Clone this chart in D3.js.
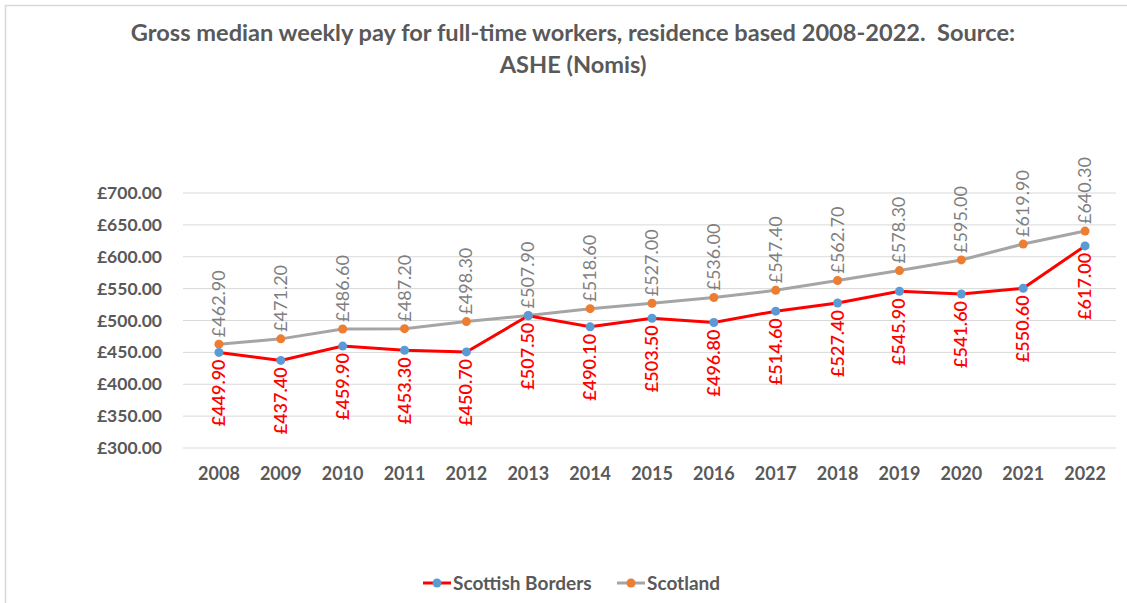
<!DOCTYPE html>
<html>
<head>
<meta charset="utf-8">
<script src="https://cdn.jsdelivr.net/npm/d3@7"></script>
<style>
  html, body { margin: 0; padding: 0; background: #fff; }
  svg { display: block; }
  text { font-family: Lato, "Open Sans", sans-serif; }
</style>
</head>
<body>
<svg id="chart" width="1127" height="603"></svg>
<script>
const years = ["2008","2009","2010","2011","2012","2013","2014","2015","2016","2017","2018","2019","2020","2021","2022"];
const scottishBorders = [449.90,437.40,459.90,453.30,450.70,507.50,490.10,503.50,496.80,514.60,527.40,545.90,541.60,550.60,617.00];
const scotland = [462.90,471.20,486.60,487.20,498.30,507.90,518.60,527.00,536.00,547.40,562.70,578.30,595.00,619.90,640.30];
const yTicks = [300,350,400,450,500,550,600,650,700];
const seriesNames = ["Scottish Borders","Scotland"];
const titleLines = ["Gross median weekly pay for full-time workers, residence based 2008-2022.  Source:", "ASHE (Nomis)"];

const svg = d3.select("#chart");
const textColor = "#595959";

// outer chart border
svg.append("rect").attr("x",5.5).attr("y",5.5).attr("width",1200).attr("height",700)
  .attr("fill","none").attr("stroke","#d9d9d9").attr("stroke-width",1.5);

// title
svg.append("g").selectAll("text").data(titleLines).join("text")
  .attr("x",573).attr("y",(d,i)=>41+i*32)
  .attr("text-anchor","middle").attr("font-size",23.6).attr("font-weight","bold")
  .style("white-space","pre")
  .attr("fill",textColor).text(d=>d);

const x = d3.scaleBand().domain(years).range([188,1116]);
const y = d3.scaleLinear().domain([300,700]).range([448,193]);
const cx = d => x(d) + x.bandwidth()/2;

// gridlines
svg.append("g").selectAll("line").data(yTicks).join("line")
  .attr("x1",183).attr("x2",1116)
  .attr("y1",d=>y(d)).attr("y2",d=>y(d))
  .attr("stroke","#d9d9d9").attr("stroke-width",1);

// y axis
const yAxis = svg.append("g").attr("transform","translate(170,0)")
  .call(d3.axisLeft(y).tickValues(yTicks).tickSize(0).tickPadding(8).tickFormat(d=>"£"+d3.format(".2f")(d)));
yAxis.select(".domain").remove();
yAxis.selectAll("text").attr("font-size",17.5).attr("font-weight","bold").attr("fill",textColor)
  .attr("font-family","Lato, sans-serif");

// x axis
const xAxis = svg.append("g").attr("transform","translate(0,463)")
  .call(d3.axisBottom(x).tickSize(0).tickPadding(4));
xAxis.select(".domain").remove();
xAxis.selectAll("text").attr("font-size",18).attr("font-weight","bold").attr("fill",textColor)
  .attr("font-family","Lato, sans-serif");

const line = d3.line().x((d,i)=>cx(years[i])).y(d=>y(d));

// Scotland series
svg.append("path").datum(scotland).attr("d",line)
  .attr("fill","none").attr("stroke","#a5a5a5").attr("stroke-width",3);
// Borders series
svg.append("path").datum(scottishBorders).attr("d",line)
  .attr("fill","none").attr("stroke","#ff0000").attr("stroke-width",3);

svg.append("g").selectAll("circle").data(scotland).join("circle")
  .attr("cx",(d,i)=>cx(years[i])).attr("cy",d=>y(d)).attr("r",4.5).attr("fill","#ed7d31");
svg.append("g").selectAll("circle").data(scottishBorders).join("circle")
  .attr("cx",(d,i)=>cx(years[i])).attr("cy",d=>y(d)).attr("r",4.5).attr("fill","#5b9bd5");

const fmt = d => "£" + d3.format(".2f")(d);

// Scotland labels (above)
svg.append("g").selectAll("text").data(scotland).join("text")
  .attr("transform",(d,i)=>`translate(${cx(years[i])+6},${y(d)-7}) rotate(-90)`)
  .attr("text-anchor","start").attr("font-size",18).attr("fill","#7f7f7f")
  .attr("font-family","'Open Sans', sans-serif")
  .text(fmt);

// Borders labels (below)
svg.append("g").selectAll("text").data(scottishBorders).join("text")
  .attr("transform",(d,i)=>`translate(${cx(years[i])+6},${y(d)+7}) rotate(-90)`)
  .attr("text-anchor","end").attr("font-size",18).attr("fill","#ff0000")
  .attr("font-weight",600)
  .attr("font-family","'Open Sans', sans-serif")
  .text(fmt);

// legend
const legend = svg.append("g");
const legItems = [
  {name: seriesNames[0], line:"#ff0000", dot:"#5b9bd5", x:423},
  {name: seriesNames[1], line:"#a5a5a5", dot:"#ed7d31", x:617}
];
legItems.forEach(it => {
  legend.append("line").attr("x1",it.x).attr("x2",it.x+28).attr("y1",583).attr("y2",583)
    .attr("stroke",it.line).attr("stroke-width",3);
  legend.append("circle").attr("cx",it.x+14).attr("cy",583).attr("r",4.5).attr("fill",it.dot);
  legend.append("text").attr("x",it.x+30).attr("y",590).attr("font-size",19).attr("font-weight","bold")
    .attr("fill",textColor).text(it.name);
});
</script>
</body>
</html>
